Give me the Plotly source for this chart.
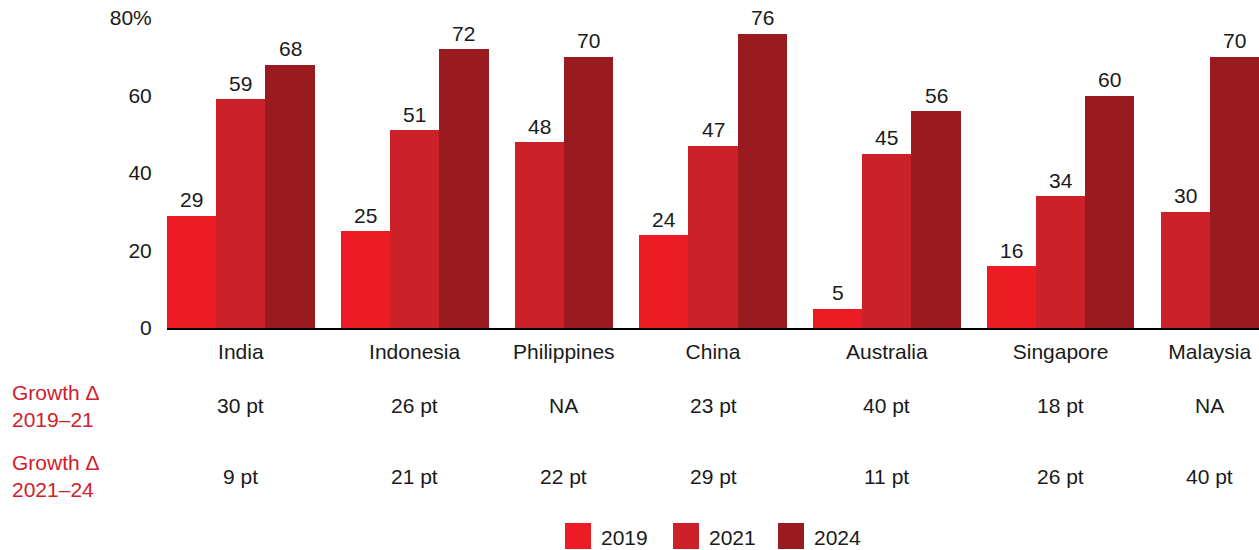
import plotly.graph_objects as go

categories = ["India", "Indonesia", "Philippines", "China", "Australia", "Singapore", "Malaysia"]
series_names = ["2019", "2021", "2024"]
v2019 = [29, 25, None, 24, 5, 16, None]
v2021 = [59, 51, 48, 47, 45, 34, 30]
v2024 = [68, 72, 70, 76, 56, 60, 70]
growth_19_21 = ["30 pt", "26 pt", "NA", "23 pt", "40 pt", "18 pt", "NA"]
growth_21_24 = ["9 pt", "21 pt", "22 pt", "29 pt", "11 pt", "26 pt", "40 pt"]
row_labels = ["Growth Δ<br>2019–21", "Growth Δ<br>2021–24"]
y_ticks = [0, 20, 40, 60, 80]
y_ticktext = ["0", "20", "40", "60", "80%"]

colors = ["#ED1C24", "#CC2128", "#991B20"]
FONT = "Liberation Sans, Arial, sans-serif"
FS = 21
GAP = 0.53  # gap between category groups, in bar widths

values = [v2019, v2021, v2024]

# lay out bars: missing values take no slot
xs = [[] for _ in series_names]
ys = [[] for _ in series_names]
centers = []
cursor = 0.0
for ci, cat in enumerate(categories):
    pos = []
    for si in range(len(series_names)):
        v = values[si][ci]
        if v is None:
            continue
        x = cursor + 0.5
        xs[si].append(x)
        ys[si].append(v)
        pos.append(x)
        cursor += 1
    centers.append(sum(pos) / len(pos))
    cursor += GAP
x_max = cursor - GAP

fig = go.Figure()
annotations = []
for si, name in enumerate(series_names):
    fig.add_trace(go.Bar(
        x=xs[si], y=ys[si], name=name, width=1,
        marker=dict(color=colors[si], line=dict(width=0)),
        showlegend=False,
    ))
    for x, v in zip(xs[si], ys[si]):
        annotations.append(dict(x=x, y=v, xref="x", yref="y", text=str(v), showarrow=False,
                                xanchor="center", yanchor="middle", yshift=16,
                                font=dict(family=FONT, size=FS, color="#1a1a1a")))

W, H = 1259, 550
ML, MR, MT, MB = 167, 0, 18, 222
PH = H - MT - MB
PW = W - ML - MR

def ypaper(pix):
    return (H - MB - pix) / PH

for row_texts, ypix, lab in [(growth_19_21, 406, row_labels[0]), (growth_21_24, 476, row_labels[1])]:
    for c, t in zip(centers, row_texts):
        annotations.append(dict(x=c, y=ypaper(ypix), xref="x", yref="paper", text=t,
                                showarrow=False, xanchor="center", yanchor="middle",
                                font=dict(family=FONT, size=FS, color="#1a1a1a")))
    annotations.append(dict(x=(10 - ML) / PW, y=ypaper(ypix), xref="paper", yref="paper",
                            text=lab, showarrow=False, xanchor="left", yanchor="middle", align="left",
                            font=dict(family=FONT, size=FS, color="#D0202A")))

# manual legend
shapes = []
leg_x = [565, 673, 778]
for si, name in enumerate(series_names):
    x0 = (leg_x[si] - ML) / PW
    x1 = (leg_x[si] + 26 - ML) / PW
    shapes.append(dict(type="rect", xref="paper", yref="paper", x0=x0, x1=x1,
                       y0=ypaper(549), y1=ypaper(523), fillcolor=colors[si], line=dict(width=0)))
    annotations.append(dict(x=(leg_x[si] + 34 - ML) / PW, y=ypaper(537), xref="paper", yref="paper",
                            text=name, showarrow=False, xanchor="left", yanchor="middle",
                            font=dict(family=FONT, size=FS, color="#1a1a1a")))

fig.update_layout(
    width=W, height=H,
    margin=dict(l=ML, r=MR, t=MT, b=MB, autoexpand=False),
    paper_bgcolor="white", plot_bgcolor="white",
    barmode="overlay", bargap=0,
    font=dict(family=FONT, size=FS, color="#1a1a1a"),
    xaxis=dict(range=[0, x_max], tickvals=centers, ticktext=categories,
               showgrid=False, zeroline=False, showline=True, linecolor="black", linewidth=2,
               ticks="outside", ticklen=4, tickcolor="rgba(0,0,0,0)",
               tickfont=dict(family=FONT, size=FS, color="#1a1a1a")),
    yaxis=dict(range=[0, 80], tickvals=y_ticks, ticktext=y_ticktext,
               showgrid=False, zeroline=False, showline=False,
               ticks="outside", ticklen=10, tickcolor="rgba(0,0,0,0)",
               tickfont=dict(family=FONT, size=FS, color="#1a1a1a")),
    annotations=annotations, shapes=shapes,
    showlegend=False,
)

fig.write_html("out.html")
